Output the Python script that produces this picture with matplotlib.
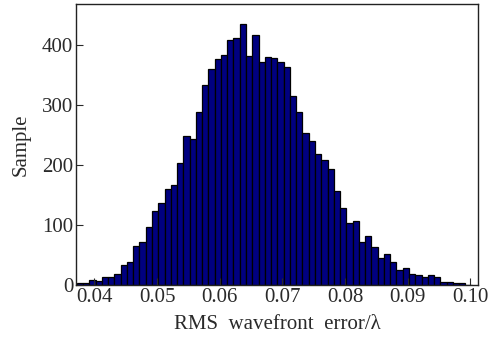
import numpy as np
import matplotlib.pyplot as plt

plt.rcParams['font.family'] = ['Liberation Serif', 'DejaVu Serif']

# histogram counts, one per bin of width 0.001 starting at 0.0372
counts = [4, 4, 9, 7, 14, 14, 19, 34, 38, 65, 72, 96, 124, 137, 160, 166,
          203, 248, 243, 288, 334, 360, 377, 383, 408, 412, 434, 382, 416,
          372, 380, 378, 371, 363, 315, 288, 254, 240, 218, 209, 193, 157,
          129, 103, 107, 71, 81, 63, 45, 51, 38, 25, 28, 19, 17, 14, 16, 13,
          5, 5, 4, 3, 1]
bin_start = 0.0372
bin_width = 0.001
xticks = [0.04, 0.05, 0.06, 0.07, 0.08, 0.09, 0.10]
yticks = [0, 100, 200, 300, 400]

edges = bin_start + bin_width * np.arange(len(counts) + 1)

fig = plt.figure(figsize=(5.01, 3.37), dpi=100)
ax = fig.add_axes([0.152, 0.154, 0.802, 0.834])
ax.hist(edges[:-1] + bin_width / 2, bins=edges, weights=counts,
        facecolor='#000080', edgecolor='black', linewidth=0.9)

ax.set_xlim(0.0371, 0.1012)
ax.set_ylim(0, 468)
ax.set_xticks(xticks)
ax.set_xticklabels(['%.2f' % v for v in xticks])
ax.set_yticks(yticks)
ax.tick_params(direction='in', length=5, labelsize=15, pad=2,
               colors='#2a2a2a', width=0.8)
for s in ax.spines.values():
    s.set_linewidth(1.0)
    s.set_color('#222222')

ax.set_xlabel('RMS  wavefront  error/λ', fontsize=15, labelpad=6,
              color='#2a2a2a')
ax.set_ylabel('Sample', fontsize=15, labelpad=8, color='#2a2a2a')

fig.savefig('out.png', dpi=100)
